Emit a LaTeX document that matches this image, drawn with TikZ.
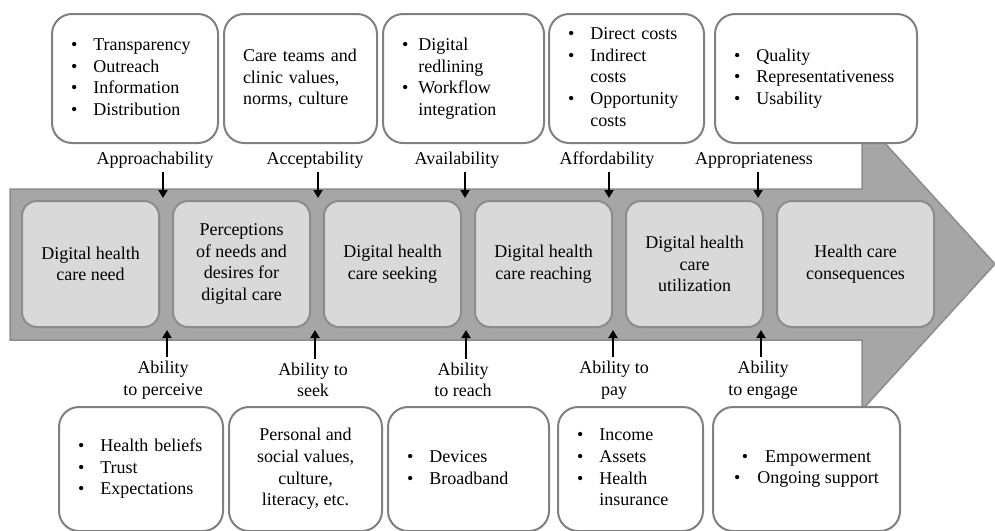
\documentclass[tikz,border=0pt]{standalone}
\usepackage{fontspec}
\setmainfont{Liberation Serif}
\usetikzlibrary{arrows.meta, positioning}
\definecolor{cBand}{HTML}{A6A6A6}
\definecolor{cBandLine}{HTML}{8C8C8C}
\definecolor{cStage}{HTML}{D9D9D9}
\definecolor{cFrame}{HTML}{808080}
\tikzset{
  txt/.style={font=\fontsize{18}{21.6}\selectfont},
  bandshape/.style={fill=cBand, draw=cBandLine, line width=1.5pt},
  stagebox/.style={txt, draw=cBandLine, fill=cStage, line width=2pt,
    rounded corners=15pt, minimum width=137pt, minimum height=126pt,
    align=center, inner sep=2pt},
  infobox/.style={txt, draw=cFrame, fill=white, line width=2pt,
    rounded corners=20pt, minimum height=129pt, inner ysep=2pt},
  listbox/.style={infobox, align=left, inner xsep=19pt},
  lowbox/.style={minimum height=124pt},
  dimlabel/.style={txt, align=center, inner xsep=1pt, inner ysep=4pt},
  flow/.style={-{Triangle[length=8pt, width=9pt]}, line width=2pt, draw=black},
}

\begin{document}
\begin{tikzpicture}[x=1pt, y=-1pt]
  \useasboundingbox (0,0) rectangle (995,530);

  % ----------------------------------------------------------------
  % Process band: arrow body and head
  % ----------------------------------------------------------------
  \draw[bandshape] (10,189) -- (862,189) -- (862,118) -- (995,264)
    -- (862,410) -- (862,340) -- (10,340) -- cycle;

  % ----------------------------------------------------------------
  % Stages along the band
  % ----------------------------------------------------------------
  \node[stagebox] (need) at (90.5,264) {Digital health\\care need};
  \node[stagebox, right=12pt of need] (desire)
    {Perceptions\\of needs and\\desires for\\digital care};
  \node[stagebox, right=12pt of desire] (seeking) {Digital health\\care seeking};
  \node[stagebox, right=12pt of seeking] (reaching) {Digital health\\care reaching};
  \node[stagebox, right=12pt of reaching] (utilization)
    {Digital health\\care\\utilization};
  \node[stagebox, right=12pt of utilization, minimum width=157pt] (consequences)
    {Health care\\consequences};

  % ----------------------------------------------------------------
  % Row 1 (top): supply side boxes
  % ----------------------------------------------------------------
  \node[listbox, text width=128pt] (tApproach) at (135,78.5) {
    \begin{tabular}{@{}l@{\hspace{16pt}}l@{}}
      \textbullet & Transparency\\
      \textbullet & Outreach\\
      \textbullet & Information\\
      \textbullet & Distribution
    \end{tabular}};
  \node[infobox, align=left, text width=121pt, inner xsep=16pt,
    right=4pt of tApproach] (tAccept)
    {\hspace*{3pt}Care teams and\\\hspace*{3pt}clinic values,\\\hspace*{3pt}norms, culture};
  \node[listbox, text width=123pt, right=4pt of tAccept] (tAvail) {
    \begin{tabular}{@{}l@{\hspace{10pt}}l@{}}
      \textbullet & Digital\\
                  & redlining\\
      \textbullet & Workflow\\
                  & integration
    \end{tabular}};
  \node[listbox, text width=117pt, right=3pt of tAvail] (tAfford) {
    \begin{tabular}{@{}l@{\hspace{16pt}}l@{}}
      \textbullet & Direct costs\\
      \textbullet & Indirect\\
                  & costs\\
      \textbullet & Opportunity\\
                  & costs
    \end{tabular}};
  \node[listbox, text width=164pt, right=9pt of tAfford] (tApprop) {
    \begin{tabular}{@{}l@{\hspace{16pt}}l@{}}
      \textbullet & Quality\\
      \textbullet & Representativeness\\
      \textbullet & Usability
    \end{tabular}};

  % ----------------------------------------------------------------
  % Row 2 (bottom): demand side boxes
  % ----------------------------------------------------------------
  \node[listbox, lowbox, text width=126pt] (bPerceive) at (141,469) {
    \begin{tabular}{@{}l@{\hspace{16pt}}l@{}}
      \textbullet & Health beliefs\\
      \textbullet & Trust\\
      \textbullet & Expectations
    \end{tabular}};
  \node[infobox, lowbox, align=center, minimum width=153pt,
    right=4pt of bPerceive] (bSeek)
    {Personal and\\social values,\\culture,\\literacy, etc.};
  \node[listbox, lowbox, text width=123pt, right=4pt of bSeek] (bReach) {
    \begin{tabular}{@{}l@{\hspace{16pt}}l@{}}
      \textbullet & Devices\\
      \textbullet & Broadband
    \end{tabular}};
  \node[listbox, lowbox, text width=107pt, right=7pt of bReach] (bPay) {
    \begin{tabular}{@{}l@{\hspace{16pt}}l@{}}
      \textbullet & Income\\
      \textbullet & Assets\\
      \textbullet & Health\\
                  & insurance
    \end{tabular}};
  \node[infobox, lowbox, align=center, minimum width=187pt,
    right=8pt of bPay] (bEngage)
    {\textbullet\hspace{17pt}Empowerment\\\textbullet\hspace{17pt}Ongoing support};

  % ----------------------------------------------------------------
  % Access dimensions
  % ----------------------------------------------------------------
  \node[dimlabel] (approach) at (155,160) {Approachability};
  \node[dimlabel] (accept) at (315,160) {Acceptability};
  \node[dimlabel] (avail) at (457,160) {Availability};
  \node[dimlabel] (afford) at (607,160) {Affordability};
  \node[dimlabel] (approp) at (754,160) {Appropriateness};

  \node[dimlabel] (perceive) at (163,380) {Ability\\to perceive};
  \node[dimlabel] (seek) at (313,380) {Ability to\\seek};
  \node[dimlabel] (reach) at (463,380) {Ability\\to reach};
  \node[dimlabel] (pay) at (614,380) {Ability to\\pay};
  \node[dimlabel] (engage) at (763,380) {Ability\\to engage};

  % ----------------------------------------------------------------
  % Arrows into the band
  % ----------------------------------------------------------------
  \foreach \dim/\x in {approach/163, accept/318, avail/465, afford/609, approp/758} {
    \coordinate (\dim-in) at (\x,198);
    \draw[flow] (\dim.south -| \dim-in) -- (\dim-in);
  }
  \foreach \dim/\x in {perceive/167, seek/315, reach/466, pay/613, engage/761} {
    \coordinate (\dim-in) at (\x,330);
    \draw[flow] (\dim.north -| \dim-in) -- (\dim-in);
  }

\end{tikzpicture}
\end{document}
